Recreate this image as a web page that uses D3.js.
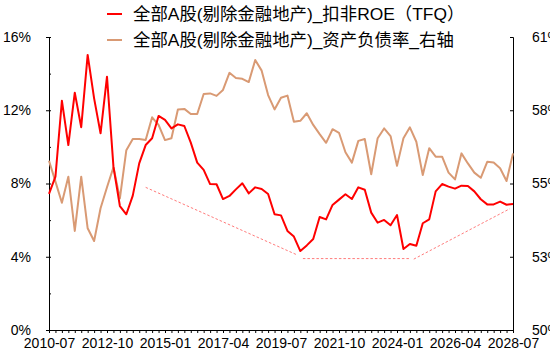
<!DOCTYPE html>
<html><head><meta charset="utf-8">
<script src="https://cdn.jsdelivr.net/npm/d3@7"></script>
<style>
html,body{margin:0;padding:0;background:#fff;}
svg{display:block;font-family:"Liberation Sans","Noto Sans CJK SC",sans-serif;}
</style></head>
<body><svg id="c" width="550" height="359"></svg>
<script>
const categories = ["2010-07","2010-10",
"2011-01","2011-04","2011-07","2011-10","2012-01","2012-04","2012-07","2012-10",
"2013-01","2013-04","2013-07","2013-10","2014-01","2014-04","2014-07","2014-10",
"2015-01","2015-04","2015-07","2015-10","2016-01","2016-04","2016-07","2016-10",
"2017-01","2017-04","2017-07","2017-10","2018-01","2018-04","2018-07","2018-10",
"2019-01","2019-04","2019-07","2019-10","2020-01","2020-04","2020-07","2020-10",
"2021-01","2021-04","2021-07","2021-10","2022-01","2022-04","2022-07","2022-10",
"2023-01","2023-04","2023-07","2023-10","2024-01","2024-04","2024-07","2024-10",
"2025-01","2025-04","2025-07","2025-10","2026-01","2026-04","2026-07","2026-10",
"2027-01","2027-04","2027-07","2027-10","2028-01","2028-04","2028-07"];
const tickLabels = ["2010-07","2012-10","2015-01","2017-04","2019-07","2021-10","2024-01","2026-04","2028-07"];
const roe = [7.43,8.37,12.52,10.1,12.96,11.07,15.02,12.65,10.74,13.83,
8.92,6.77,6.32,7.34,9.1,10.1,10.47,11.69,11.47,11.01,
11.23,11.14,10.23,9.14,8.74,7.97,7.96,7.15,7.32,7.68,
8.01,7.46,7.79,7.7,7.43,6.32,6.26,5.41,5.1,4.31,
4.62,4.97,6.17,6.04,6.83,7.12,7.41,7.15,7.79,7.66,
6.41,5.86,6.01,5.72,6.28,4.42,4.7,4.6,5.83,6.04,
7.57,7.97,7.83,7.72,7.88,7.86,7.57,7.14,6.86,6.86,
7.01,6.84,6.88];
const debt = [56.24,55.47,54.69,55.65,53.65,55.65,53.75,53.28,54.49,55.26,
56.0,54.85,56.63,57.04,57.04,57.0,57.84,57.56,57.0,57.07,
58.13,58.15,57.96,57.96,58.70,58.72,58.63,58.85,59.48,59.29,
59.26,59.14,59.95,59.56,58.66,58.13,58.56,58.64,57.68,57.71,
57.99,57.56,57.22,56.90,57.40,57.27,56.55,56.17,56.97,57.04,
55.74,57.07,57.43,57.15,56.05,57.07,57.47,56.94,55.71,56.70,
56.39,56.39,55.80,55.55,56.51,56.14,55.80,55.61,56.20,56.17,
55.96,55.49,56.51];
// dashed guide segments: [category index, ROE value]
const trendA = [[15,7.79],[38.5,4.1]];
const trendB = [[39.4,3.9],[56.1,3.9]];
const trendC = [[56.6,3.87],[71.5,6.62]];
const leftTicks = [0,4,8,12,16];
const leftMinor = [0,2,4,6,8,10,12,14,16];
const rightTicks = [50,52.7,55.4,58.1,60.8];
const seriesNames = ["全部A股(剔除金融地产)_扣非ROE（TFQ）","全部A股(剔除金融地产)_资产负债率_右轴"];

const svg = d3.select("#c");
const L=49, R=513, T=37, B=330;
const x = d3.scaleLinear().domain([0, categories.length-1]).range([L,R]);
const y = d3.scaleLinear().domain([0,16]).range([B,T]);
const y2 = d3.scaleLinear().domain([50,60.8]).range([B,T]);

// left axis
const gl = svg.append("g").attr("transform",`translate(${L},0)`);
gl.call(d3.axisLeft(y).tickValues(leftTicks).tickSize(3).tickFormat(d=>d+"%"));
gl.append("g").call(d3.axisRight(y).tickValues(leftMinor).tickSize(2).tickFormat(""))
  .select(".domain").remove();
gl.selectAll("text").attr("font-size",14).attr("font-family","Liberation Sans").attr("fill","#000").attr("x",-18);
gl.selectAll("line,path").attr("stroke","#000");

// right axis
const gr = svg.append("g").attr("transform",`translate(${R},0)`);
gr.call(d3.axisRight(y2).tickValues(rightTicks).tickSize(-3).tickFormat(d=>Math.round(d)+"%"));
gr.selectAll("text").attr("font-size",14).attr("font-family","Liberation Sans").attr("fill","#000").attr("x",19);
gr.selectAll("line,path").attr("stroke","#000");

// bottom axis
const gb = svg.append("g").attr("transform",`translate(0,${B})`);
gb.call(d3.axisBottom(x).tickValues(d3.range(categories.length)).tickSize(3).tickSizeOuter(0).tickFormat(""));
gb.selectAll("line,path").attr("stroke","#000");
const gb2 = svg.append("g").attr("transform",`translate(0,${B})`);
gb2.call(d3.axisBottom(x).tickValues(tickLabels.map(t=>categories.indexOf(t))).tickSize(0).tickPadding(8).tickFormat(i=>categories[i]));
gb2.select(".domain").remove();
gb2.selectAll("text").attr("font-size",14).attr("font-family","Liberation Sans").attr("fill","#000");

// dashed guides
const tl = d3.line().x(d=>x(d[0])).y(d=>y(d[1]));
[trendA,trendB,trendC].forEach(s=>{
  svg.append("path").attr("d",tl(s)).attr("fill","none").attr("stroke","#ff7b7b")
    .attr("stroke-width",1).attr("stroke-dasharray","2.5,2");
});

// series
svg.append("path").attr("d",d3.line().x((d,i)=>x(i)).y(d=>y2(d))(debt))
  .attr("fill","none").attr("stroke","#d99a74").attr("stroke-width",2).attr("stroke-linejoin","round");
svg.append("path").attr("d",d3.line().x((d,i)=>x(i)).y(d=>y(d))(roe))
  .attr("fill","none").attr("stroke","#ff0000").attr("stroke-width",2).attr("stroke-linejoin","round");

// legend
const colors=["#ff0000","#d99a74"];
seriesNames.forEach((n,k)=>{
  const yy = 14 + k*26;
  svg.append("line").attr("x1",107).attr("x2",122).attr("y1",yy).attr("y2",yy)
    .attr("stroke",colors[k]).attr("stroke-width",2);
  svg.append("text").attr("x",133).attr("y",yy).attr("dy","0.35em")
    .attr("font-size",17.4).attr("fill","#000").text(n);
});
</script></body></html>
